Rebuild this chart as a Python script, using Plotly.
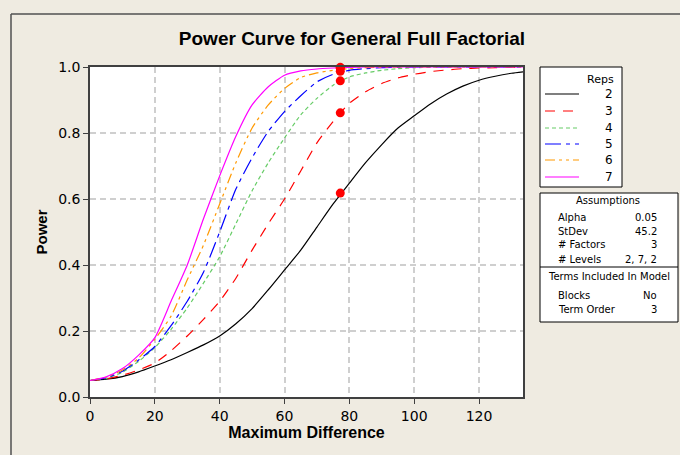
import plotly.graph_objects as go

# ---------------- data ----------------
DIFF = [0, 5, 10, 15, 20, 25, 30, 35, 40, 45, 50, 55, 60, 65, 70, 75, 80,
        85, 90, 95, 100, 105, 110, 115, 120, 125, 130, 135]

REPS = ["2", "3", "4", "5", "6", "7"]

POWER_2 = [0.050, 0.054, 0.062, 0.076, 0.094, 0.113, 0.135, 0.158, 0.185, 0.222,
           0.268, 0.325, 0.385, 0.445, 0.515, 0.585, 0.648, 0.710, 0.765, 0.815,
           0.852, 0.888, 0.918, 0.942, 0.960, 0.972, 0.981, 0.987]
POWER_3 = [0.050, 0.055, 0.066, 0.082, 0.103, 0.140, 0.185, 0.235, 0.290, 0.360,
           0.445, 0.525, 0.600, 0.685, 0.770, 0.835, 0.890, 0.925, 0.950, 0.967,
           0.978, 0.986, 0.991, 0.995, 0.997, 0.998, 0.999, 0.999]
POWER_4 = [0.050, 0.057, 0.075, 0.108, 0.150, 0.205, 0.270, 0.345, 0.425, 0.525,
           0.625, 0.710, 0.785, 0.855, 0.905, 0.945, 0.970, 0.982, 0.990, 0.995,
           0.998, 0.999, 1.000, 1.000, 1.000, 1.000, 1.000, 1.000]
POWER_5 = [0.050, 0.058, 0.078, 0.112, 0.153, 0.216, 0.290, 0.378, 0.500, 0.630,
           0.725, 0.805, 0.865, 0.913, 0.955, 0.978, 0.990, 0.995, 0.998, 0.999,
           1.000, 1.000, 1.000, 1.000, 1.000, 1.000, 1.000, 1.000]
POWER_6 = [0.050, 0.060, 0.082, 0.118, 0.175, 0.245, 0.355, 0.460, 0.585, 0.710,
           0.815, 0.885, 0.935, 0.968, 0.982, 0.990, 0.995, 0.998, 0.999, 1.000,
           1.000, 1.000, 1.000, 1.000, 1.000, 1.000, 1.000, 1.000]
POWER_7 = [0.050, 0.061, 0.086, 0.127, 0.180, 0.290, 0.400, 0.540, 0.670, 0.790,
           0.885, 0.940, 0.975, 0.988, 0.994, 0.997, 0.999, 1.000, 1.000, 1.000,
           1.000, 1.000, 1.000, 1.000, 1.000, 1.000, 1.000, 1.000]

POWER = [POWER_2, POWER_3, POWER_4, POWER_5, POWER_6, POWER_7]

DOT_DIFF = 77.2
DOT_POWER = [0.618, 0.861, 0.958, 0.987, 0.996, 0.999]

LEGEND_TITLE = "Reps"
ASSUMPTION_LABELS = ["Alpha", "StDev", "# Factors", "# Levels"]
ASSUMPTION_VALUES = ["0.05", "45.2", "3", "2, 7, 2"]
TERM_LABELS = ["Blocks", "Term Order"]
TERM_VALUES = ["No", "3"]

X_TICKS = [0, 20, 40, 60, 80, 100, 120]
Y_TICKS = [0.0, 0.2, 0.4, 0.6, 0.8, 1.0]

# ---------------- styles ----------------
COLORS = ["#000000", "#FF0000", "#66CC66", "#0000FF", "#FF9900", "#FF00FF"]
DASHES = ["solid", "10px,8px", "4px,3px", "16px,5px,4px,5px",
          "10px,4px,3px,4px,3px,4px", "solid"]

W, H = 680, 455
L, R, T, B = 90, 523, 67, 397


def px(x):
    return (x - L) / (R - L)


def py(y):
    return (B - y) / (B - T)


FONT = "DejaVu Sans, Verdana, sans-serif"
BOLD = "Liberation Sans, Arial, sans-serif"

fig = go.Figure()

for name, ys, c, d in zip(REPS, POWER, COLORS, DASHES):
    fig.add_trace(go.Scatter(
        x=DIFF, y=ys, mode="lines", name=name, showlegend=False,
        line=dict(color=c, width=1.2, dash=d, shape="spline", smoothing=0.6),
    ))

fig.add_trace(go.Scatter(
    x=[DOT_DIFF] * len(DOT_POWER), y=DOT_POWER, mode="markers",
    marker=dict(color="#FF0000", size=9), showlegend=False, cliponaxis=False,
))

shapes = []
annotations = []

# outer frame lines
shapes.append(dict(type="line", xref="paper", yref="paper",
                   x0=px(11), x1=px(690), y0=py(14), y1=py(14),
                   line=dict(color="#505050", width=1.5)))
shapes.append(dict(type="line", xref="paper", yref="paper",
                   x0=px(11), x1=px(11), y0=py(14), y1=py(470),
                   line=dict(color="#505050", width=1.5)))

# legend box (Reps)
shapes.append(dict(type="rect", xref="paper", yref="paper",
                   x0=px(540), x1=px(622), y0=py(187), y1=py(67),
                   fillcolor="white", line=dict(color="black", width=1), layer="below"))
annotations.append(dict(xref="paper", yref="paper", x=px(616), y=py(79),
                        text=LEGEND_TITLE, showarrow=False, xanchor="right",
                        yanchor="middle", font=dict(family=FONT, size=11, color="black")))
legend_rows = [94, 111, 128, 144, 160, 177]
for name, c, d, yy in zip(REPS, COLORS, DASHES, legend_rows):
    shapes.append(dict(type="line", xref="paper", yref="paper",
                       x0=px(545), x1=px(579), y0=py(yy), y1=py(yy),
                       line=dict(color=c, width=1.2, dash=d)))
    annotations.append(dict(xref="paper", yref="paper", x=px(615), y=py(yy),
                            text=name, showarrow=False, xanchor="right",
                            yanchor="middle", font=dict(family=FONT, size=12, color="black")))

# assumptions box
shapes.append(dict(type="rect", xref="paper", yref="paper",
                   x0=px(540), x1=px(678), y0=py(322), y1=py(193),
                   fillcolor="white", line=dict(color="black", width=1), layer="below"))
shapes.append(dict(type="line", xref="paper", yref="paper",
                   x0=px(540), x1=px(678), y0=py(267), y1=py(267),
                   line=dict(color="black", width=1)))

box_font = dict(family=FONT, size=10, color="black")
annotations.append(dict(xref="paper", yref="paper", x=px(608), y=py(201),
                        text="Assumptions", showarrow=False, xanchor="center",
                        yanchor="middle", font=box_font))
rows_y = [217, 231, 245, 259]
for lab, val, yy in zip(ASSUMPTION_LABELS, ASSUMPTION_VALUES, rows_y):
    annotations.append(dict(xref="paper", yref="paper", x=px(556), y=py(yy),
                            text=lab, showarrow=False, xanchor="left",
                            yanchor="middle", font=box_font))
    annotations.append(dict(xref="paper", yref="paper", x=px(659), y=py(yy),
                            text=val, showarrow=False, xanchor="right",
                            yanchor="middle", font=box_font))
annotations.append(dict(xref="paper", yref="paper", x=px(609), y=py(276),
                        text="Terms Included In Model", showarrow=False,
                        xanchor="center", yanchor="middle", font=box_font))
for lab, val, yy in zip(TERM_LABELS, TERM_VALUES, [295, 309]):
    annotations.append(dict(xref="paper", yref="paper", x=px(556), y=py(yy),
                            text=lab, showarrow=False, xanchor="left",
                            yanchor="middle", font=box_font))
    annotations.append(dict(xref="paper", yref="paper", x=px(659), y=py(yy),
                            text=val, showarrow=False, xanchor="right",
                            yanchor="middle", font=box_font))

fig.update_layout(
    width=W, height=H, autosize=False, showlegend=False,
    margin=dict(l=L, r=W - R, t=T, b=H - B),
    paper_bgcolor="#EFEBE1", plot_bgcolor="white",
    title=dict(text="<b>Power Curve for General Full Factorial</b>",
               xref="container", x=352 / W, xanchor="center",
               yref="container", y=1 - 38 / H, yanchor="middle",
               font=dict(family=BOLD, size=19, color="black")),
    font=dict(family=FONT, size=14, color="black"),
    xaxis=dict(range=[0, (R - L) / 3.242], tickvals=X_TICKS,
               ticktext=[str(v) for v in X_TICKS],
               showgrid=True, gridcolor="#CFCFCF", gridwidth=1.5, griddash="6px,4px",
               zeroline=False, showline=True, linecolor="#404040", linewidth=1.5,
               mirror=True, ticks="outside", ticklen=5, tickcolor="#404040",
               tickfont=dict(family=FONT, size=14),
               title=dict(text="<b>Maximum Difference</b>", standoff=3,
                          font=dict(family=BOLD, size=16))),
    yaxis=dict(range=[0, 1], tickvals=Y_TICKS,
               ticktext=["%.1f" % v for v in Y_TICKS],
               showgrid=True, gridcolor="#CFCFCF", gridwidth=1.5, griddash="6px,4px",
               zeroline=False, showline=True, linecolor="#404040", linewidth=1.5,
               mirror=True, ticks="outside", ticklen=5, tickcolor="#404040",
               tickfont=dict(family=FONT, size=14),
               title=dict(text="<b>Power</b>", standoff=7,
                          font=dict(family=BOLD, size=15))),
    shapes=shapes, annotations=annotations,
)

fig.write_html("out.html",
               config={"displayModeBar": False},
               post_script="document.body.style.margin='0px';"
                           "document.body.style.overflow='hidden';")
